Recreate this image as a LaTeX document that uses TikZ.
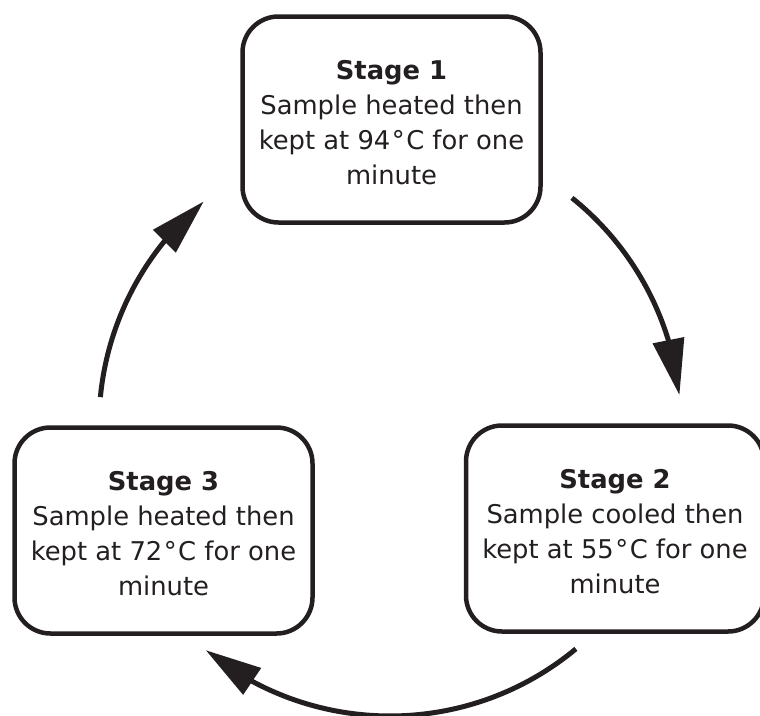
\documentclass[tikz,border=0pt]{standalone}
\usepackage{fontspec}
\setmainfont{DejaVu Sans}
\usetikzlibrary{arrows.meta,bending,calc}
\definecolor{ink}{HTML}{231F20}
\newcommand\degsym{\kern1.5pt°\kern1.5pt}
\begin{document}
\begin{tikzpicture}[x=1pt,y=-1pt,
  stagebox/.style={draw=ink, line width=4.5pt, rounded corners=36pt,
    minimum width=298pt, minimum height=206pt, inner sep=0pt,
    align=center, text=ink, font=\fontsize{25.8}{35}\selectfont},
  cyc/.style={draw=ink, line width=5pt, -{Triangle[length=56pt,width=31pt]}}]
\useasboundingbox (0,0) rectangle (760,715);
\coordinate (c) at (390,425);
\node[stagebox] (s1) at (391.5,119.5)
  {\rule{0pt}{25pt}\textbf{Stage 1}\\Sample heated then\\kept at 94\degsym C for one\\minute};
\node[stagebox] (s2) at (615,528.5)
  {\rule{0pt}{25pt}\textbf{Stage 2}\\Sample cooled then\\kept at 55\degsym C for one\\minute};
\node[stagebox] (s3) at (163.5,530.5)
  {\rule{0pt}{25pt}\textbf{Stage 3}\\Sample heated then\\kept at 72\degsym C for one\\minute};
\coordinate (a1) at ($(c)+(-51.3:291)$);
\coordinate (a2) at ($(c)+(50.3:291)$);
\coordinate (a3) at ($(c)+(185.5:291)$);
\draw[cyc] (a1) arc[start angle=-51.3, end angle=-5.9, radius=291];
\draw[cyc] (a2) arc[start angle=50.3, end angle=129.3, radius=291];
\draw[cyc] (a3) arc[start angle=185.5, end angle=230.2, radius=291];
\end{tikzpicture}
\end{document}
